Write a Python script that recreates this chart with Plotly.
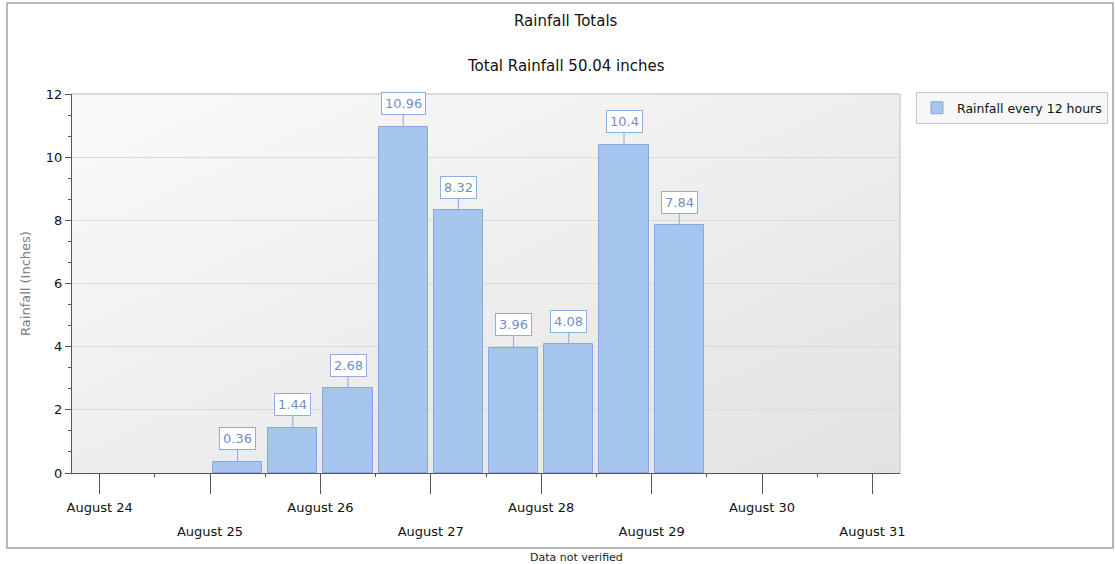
import base64
import plotly.graph_objects as go

# ---- data ----
periods = ["2017-08-25 06:00", "2017-08-25 18:00", "2017-08-26 06:00",
           "2017-08-26 18:00", "2017-08-27 06:00", "2017-08-27 18:00",
           "2017-08-28 06:00", "2017-08-28 18:00", "2017-08-29 06:00"]
rainfall = [0.36, 1.44, 2.68, 10.96, 8.32, 3.96, 4.08, 10.4, 7.84]
day_ticks = ["2017-08-24", "2017-08-25", "2017-08-26", "2017-08-27",
             "2017-08-28", "2017-08-29", "2017-08-30", "2017-08-31"]
day_labels = ["August 24", "August 25", "August 26", "August 27",
              "August 28", "August 29", "August 30", "August 31"]
y_ticks = [0, 2, 4, 6, 8, 10, 12]
series_name = "Rainfall every 12 hours"
title_text = "Rainfall Totals"
subtitle_text = "Total Rainfall %.2f inches" % sum(rainfall)
footer_text = "Data not verified"

FONT = "DejaVu Sans"
x_range = ["2017-08-23 18:00", "2017-08-31 06:00"]
bar_width_ms = 10.7 * 3600 * 1000

fig = go.Figure()
fig.add_trace(go.Bar(
    x=periods, y=rainfall, name=series_name,
    width=bar_width_ms,
    marker=dict(color="#a6c5ef", line=dict(color="#86a8dc", width=1)),
    showlegend=True,
))
# helper trace so the second (staggered-label) x axis is rendered
fig.add_trace(go.Scatter(x=day_ticks, y=[None] * len(day_ticks), xaxis="x2",
                         showlegend=False, hoverinfo="skip", mode="markers"))

# value labels
for xv, yv in zip(periods, rainfall):
    fig.add_annotation(
        x=xv, y=yv, xref="x", yref="y",
        text=("%g" % yv), showarrow=True, arrowhead=0, arrowwidth=1,
        arrowcolor="#86a8dc", ax=0, ay=-23,
        font=dict(family=FONT, size=13, color="#6f8fc6"),
        bgcolor="#ffffff", bordercolor="#8eaee0", borderwidth=1, borderpad=3,
    )

even_idx = list(range(0, len(day_ticks), 2))
odd_idx = list(range(1, len(day_ticks), 2))

axis_font = dict(family=FONT, size=13, color="#111111")
fig.update_layout(
    width=1115, height=564,
    margin=dict(l=72, r=215, t=94, b=91, autoexpand=False),
    paper_bgcolor="#ffffff",
    plot_bgcolor="rgba(0,0,0,0)",
    font=dict(family=FONT, size=13, color="#111111"),
    bargap=0,
    xaxis=dict(
        type="date", range=x_range,
        tickmode="array",
        tickvals=[day_ticks[i] for i in even_idx],
        ticktext=[day_labels[i] for i in even_idx],
        ticks="outside", ticklen=20, tickwidth=1, tickcolor="#555555",
        ticklabelstandoff=2,
        showline=True, linecolor="#555555", linewidth=1,
        showgrid=False, zeroline=False, tickfont=axis_font,
        minor=dict(dtick=86400000, tick0="2017-08-23 12:00", ticks="outside",
                   ticklen=3, tickcolor="#555555", showgrid=False),
    ),
    xaxis2=dict(
        type="date", range=x_range, overlaying="x", anchor="y", side="bottom",
        matches="x",
        tickmode="array",
        tickvals=[day_ticks[i] for i in odd_idx],
        ticktext=[day_labels[i] for i in odd_idx],
        ticks="outside", ticklen=20, tickwidth=1, tickcolor="#555555",
        ticklabelstandoff=26,
        showline=False, showgrid=False, zeroline=False, tickfont=axis_font,
    ),
    yaxis=dict(
        range=[0, 12], tickmode="array", tickvals=y_ticks,
        ticks="outside", ticklen=6, tickwidth=1, tickcolor="#555555",
        showline=True, linecolor="#555555", linewidth=1,
        showgrid=True, gridcolor="#dadada", gridwidth=1, zeroline=False,
        tickfont=axis_font,
        minor=dict(dtick=2 / 3, tick0=0, ticks="outside", ticklen=3,
                   tickcolor="#555555", showgrid=False),
        title=dict(text="Rainfall (Inches)", standoff=12,
                   font=dict(family=FONT, size=13, color="#7a7a7a")),
        automargin=False,
    ),
    legend=dict(
        x=1.0193, y=1.005, xanchor="left", yanchor="top",
        bgcolor="#f7f7f7", bordercolor="#c8c8c8", borderwidth=1,
        itemwidth=30,
        font=dict(family=FONT, size=12.5, color="#111111"),
    ),
)

# plot-area gradient background
svg = ('<svg xmlns="http://www.w3.org/2000/svg" width="200" height="100" '
       'preserveAspectRatio="none"><defs><linearGradient id="g" x1="0" y1="0" '
       'x2="1" y2="1"><stop offset="0" stop-color="#fafafa"/>'
       '<stop offset="1" stop-color="#e2e2e2"/></linearGradient></defs>'
       '<rect width="200" height="100" fill="url(#g)"/></svg>')
src = "data:image/svg+xml;base64," + base64.b64encode(svg.encode()).decode()
fig.add_layout_image(dict(source=src, xref="paper", yref="paper", x=0, y=1,
                          sizex=1, sizey=1, sizing="stretch",
                          xanchor="left", yanchor="top", layer="below"))

# plot area top/right border and outer chart border
fig.add_shape(type="line", xref="paper", yref="paper", x0=0, x1=1, y0=1, y1=1,
              line=dict(color="#cfcfcf", width=1.5), layer="above")
fig.add_shape(type="line", xref="paper", yref="paper", x0=1, x1=1, y0=0, y1=1,
              line=dict(color="#cfcfcf", width=1.5), layer="above")
fig.add_shape(type="rect", xref="paper", yref="paper",
              x0=(7 - 72) / 828, x1=(1113 - 72) / 828,
              y0=(473 - 548) / 379, y1=(473 - 3) / 379,
              line=dict(color="#a0a0a0", width=1.5), layer="below")

# titles and footer
fig.add_annotation(text=title_text, xref="paper", yref="paper",
                   x=(566 - 72) / 828, y=(473 - 21) / 379, showarrow=False,
                   xanchor="center", yanchor="middle",
                   font=dict(family=FONT, size=15, color="#111111"))
fig.add_annotation(text=subtitle_text, xref="paper", yref="paper",
                   x=(566 - 72) / 828, y=(473 - 66) / 379, showarrow=False,
                   xanchor="center", yanchor="middle",
                   font=dict(family=FONT, size=15, color="#111111"))
fig.add_annotation(text=footer_text, xref="paper", yref="paper",
                   x=(576 - 72) / 828, y=(473 - 557) / 379, showarrow=False,
                   xanchor="center", yanchor="middle",
                   font=dict(family=FONT, size=11, color="#222222"))

fig.write_html("out.html",
               config={"displayModeBar": False},
               post_script="document.body.style.margin='0px';")
